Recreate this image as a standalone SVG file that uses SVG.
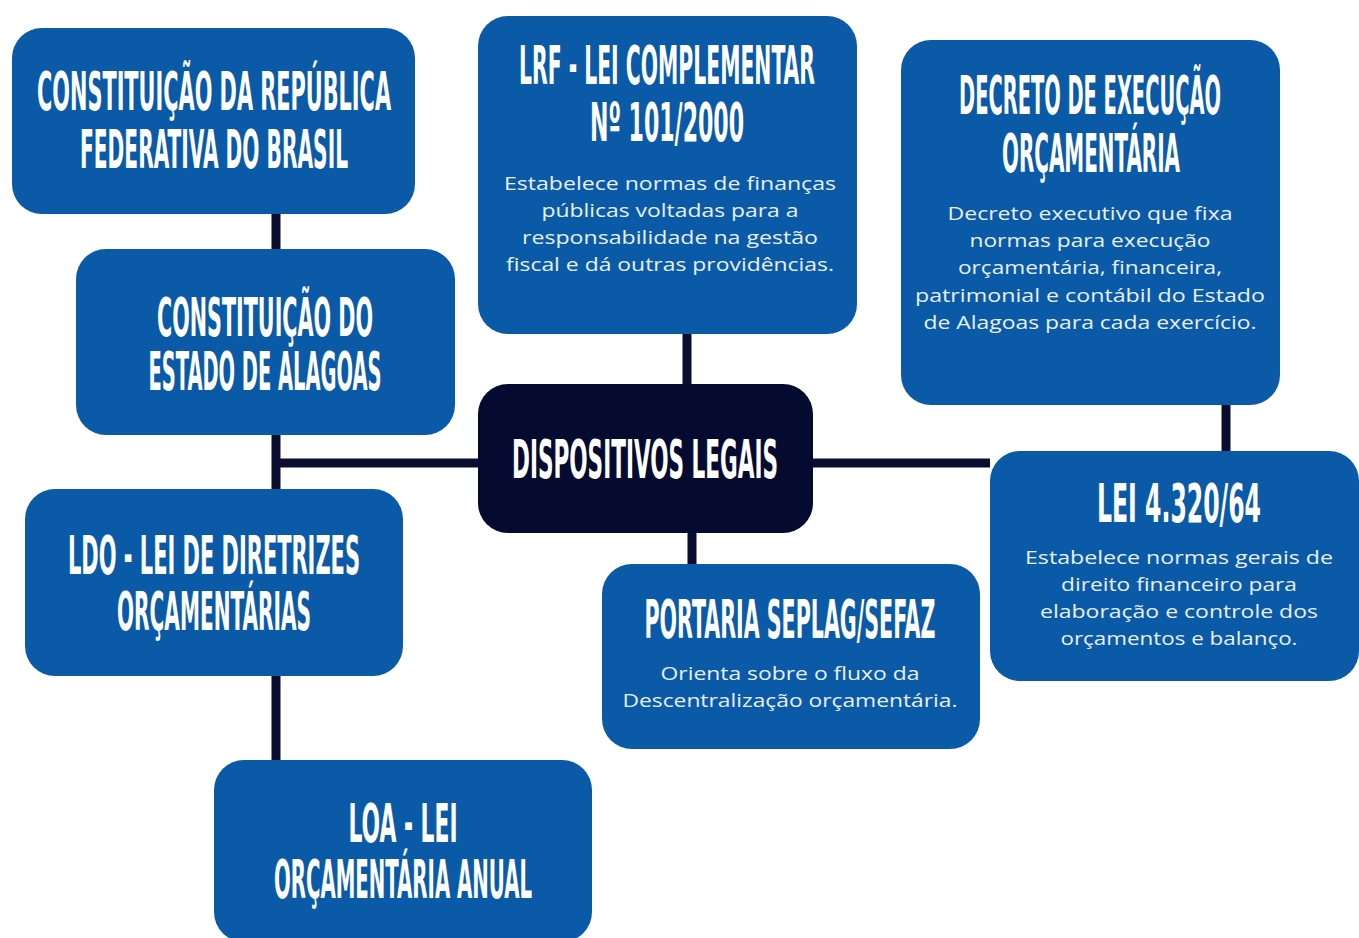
<svg xmlns="http://www.w3.org/2000/svg" width="1359" height="938" viewBox="0 0 1359 938">
<style>
.box{fill:#0b5aa7}
.dark{fill:#050a30}
.t{font-family:"Liberation Sans Narrow","DejaVu Sans Condensed","Liberation Sans",sans-serif;font-weight:bold;font-size:54px;fill:#ffffff;text-anchor:middle}
.b{font-family:"Open Sans","Noto Sans",sans-serif;font-size:19px;fill:#e8eff8;text-anchor:middle}
.c{stroke:#0a0d30;stroke-width:9;fill:none}
</style>
<rect width="1359" height="938" fill="#ffffff"/>
<g id="connectors">
<line class="c" x1="276" y1="214" x2="276" y2="760"/>
<line class="c" x1="276" y1="463" x2="990" y2="463"/>
<line class="c" x1="687" y1="334" x2="687" y2="384"/>
<line class="c" x1="692" y1="533" x2="692" y2="564"/>
<line class="c" x1="1226" y1="405" x2="1226" y2="451"/>
</g>
<g id="n-constituicao-republica">
<rect class="box" x="12" y="28" width="403" height="186" rx="30"/>
<text class="t" x="214" y="110" textLength="354" lengthAdjust="spacingAndGlyphs">CONSTITUIÇÃO DA REPÚBLICA</text>
<text class="t" x="214" y="168" textLength="268" lengthAdjust="spacingAndGlyphs">FEDERATIVA DO BRASIL</text>
</g>
<g id="n-constituicao-alagoas">
<rect class="box" x="76" y="249" width="379" height="186" rx="30"/>
<text class="t" x="265" y="336" textLength="216" lengthAdjust="spacingAndGlyphs">CONSTITUIÇÃO DO</text>
<text class="t" x="265" y="390" textLength="233" lengthAdjust="spacingAndGlyphs">ESTADO DE ALAGOAS</text>
</g>
<g id="n-ldo">
<rect class="box" x="25" y="489" width="378" height="187" rx="30"/>
<text class="t" x="214" y="574" textLength="292" lengthAdjust="spacingAndGlyphs">LDO - LEI DE DIRETRIZES</text>
<text class="t" x="214" y="630" textLength="194" lengthAdjust="spacingAndGlyphs">ORÇAMENTÁRIAS</text>
</g>
<g id="n-loa">
<rect class="box" x="214" y="760" width="378" height="182" rx="30"/>
<text class="t" x="403" y="842" textLength="109" lengthAdjust="spacingAndGlyphs">LOA - LEI</text>
<text class="t" x="403" y="898" textLength="258" lengthAdjust="spacingAndGlyphs">ORÇAMENTÁRIA ANUAL</text>
</g>
<g id="n-lrf">
<rect class="box" x="478" y="16" width="379" height="318" rx="30"/>
<text class="t" x="667" y="84" textLength="296" lengthAdjust="spacingAndGlyphs">LRF - LEI COMPLEMENTAR</text>
<text class="t" x="667" y="141" textLength="154" lengthAdjust="spacingAndGlyphs">Nº 101/2000</text>
<text class="b" x="670" y="190" textLength="332" lengthAdjust="spacingAndGlyphs">Estabelece normas de finanças</text>
<text class="b" x="670" y="217" textLength="257" lengthAdjust="spacingAndGlyphs">públicas voltadas para a</text>
<text class="b" x="670" y="244" textLength="296" lengthAdjust="spacingAndGlyphs">responsabilidade na gestão</text>
<text class="b" x="670" y="271" textLength="328" lengthAdjust="spacingAndGlyphs">fiscal e dá outras providências.</text>
</g>
<g id="n-dispositivos">
<rect class="dark" x="478" y="384" width="335" height="149" rx="30"/>
<text class="t" x="645" y="478" textLength="266" lengthAdjust="spacingAndGlyphs">DISPOSITIVOS LEGAIS</text>
</g>
<g id="n-decreto">
<rect class="box" x="901" y="40" width="379" height="365" rx="30"/>
<text class="t" x="1090" y="114" textLength="262" lengthAdjust="spacingAndGlyphs">DECRETO DE EXECUÇÃO</text>
<text class="t" x="1091" y="172" textLength="178" lengthAdjust="spacingAndGlyphs">ORÇAMENTÁRIA</text>
<text class="b" x="1090" y="220" textLength="285" lengthAdjust="spacingAndGlyphs">Decreto executivo que fixa</text>
<text class="b" x="1090" y="247" textLength="241" lengthAdjust="spacingAndGlyphs">normas para execução</text>
<text class="b" x="1090" y="274" textLength="264" lengthAdjust="spacingAndGlyphs">orçamentária, financeira,</text>
<text class="b" x="1090" y="302" textLength="350" lengthAdjust="spacingAndGlyphs">patrimonial e contábil do Estado</text>
<text class="b" x="1090" y="329" textLength="333" lengthAdjust="spacingAndGlyphs">de Alagoas para cada exercício.</text>
</g>
<g id="n-lei4320">
<rect class="box" x="990" y="451" width="369" height="230" rx="30"/>
<text class="t" x="1179" y="522" textLength="164" lengthAdjust="spacingAndGlyphs">LEI 4.320/64</text>
<text class="b" x="1179" y="564" textLength="308" lengthAdjust="spacingAndGlyphs">Estabelece normas gerais de</text>
<text class="b" x="1179" y="591" textLength="236" lengthAdjust="spacingAndGlyphs">direito financeiro para</text>
<text class="b" x="1179" y="618" textLength="278" lengthAdjust="spacingAndGlyphs">elaboração e controle dos</text>
<text class="b" x="1179" y="645" textLength="237" lengthAdjust="spacingAndGlyphs">orçamentos e balanço.</text>
</g>
<g id="n-portaria">
<rect class="box" x="602" y="564" width="378" height="185" rx="30"/>
<text class="t" x="790" y="638" textLength="291" lengthAdjust="spacingAndGlyphs">PORTARIA SEPLAG/SEFAZ</text>
<text class="b" x="790" y="680" textLength="259" lengthAdjust="spacingAndGlyphs">Orienta sobre o fluxo da</text>
<text class="b" x="790" y="707" textLength="335" lengthAdjust="spacingAndGlyphs">Descentralização orçamentária.</text>
</g>
</svg>
